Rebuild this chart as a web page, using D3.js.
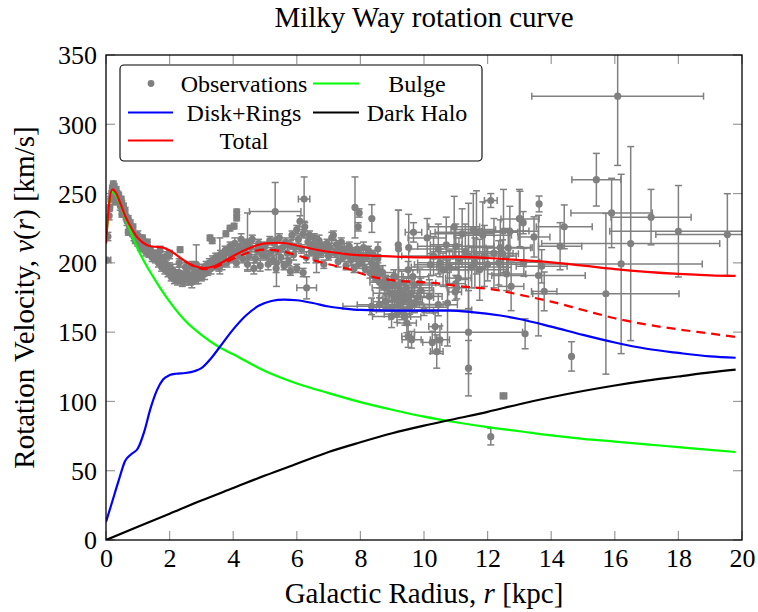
<!DOCTYPE html>
<html><head><meta charset="utf-8">
<script src="https://cdn.jsdelivr.net/npm/d3@7"></script>
<style>body{margin:0;background:#fff} text{font-family:"Liberation Serif","DejaVu Serif","Noto Serif",serif;}</style>
</head><body>
<svg id="c" width="758" height="612"></svg>
<script>
const xTicks=[0,2,4,6,8,10,12,14,16,18,20];
const yTicks=[0,50,100,150,200,250,300,350];

const bulge=[[0,214],[0.1,243],[0.2,251],[0.3,249],[0.45,242],[0.6,233],[0.8,221],[1.0,210],[1.2,201],[1.4,193],[1.7,182],[2.0,172],[2.5,158],[3.0,148],[3.5,140],[4.0,134],[5,122],[6,113],[7,106],[8,99.5],[9,94],[10,89],[11,85],[12,81.5],[13,78.5],[14,75.5],[15,73],[16,71],[17,69],[18,67],[19,65],[19.8,63.5]];
const disk=[[0,13],[0.2,28],[0.4,43],[0.6,57],[0.8,62],[1.0,66],[1.2,78],[1.4,95],[1.6,108],[1.8,116],[2.0,119],[2.2,120],[2.5,120.5],[2.8,122],[3.0,124],[3.3,131],[3.6,140],[4.0,152],[4.4,162],[4.8,169],[5.2,172.5],[5.6,173.5],[6.0,173],[6.5,171],[7.0,168.5],[7.5,167],[8.0,166],[9,165.5],[10,165.5],[10.8,165.5],[11.5,164.5],[12.4,162],[13,159.5],[14,154],[15,148],[16,142.5],[17,138],[18,135],[19,132.5],[19.8,131.5]];
const halo=[[0,0],[1,9.5],[2,19],[3,28.5],[4,37.5],[5,46.5],[6,55],[7,63.5],[8,70.5],[9,77],[10,82.5],[11,87.5],[12,92.5],[13,98],[14,103],[15,107.5],[16,111.5],[17,115],[18,118],[19,121],[19.8,123]];
const total=[[0,214],[0.1,243],[0.2,253],[0.3,251],[0.45,243],[0.6,234],[0.8,225],[1.0,218],[1.2,214],[1.4,212],[1.6,211.5],[1.8,211],[2.0,209],[2.2,206],[2.5,201],[2.8,197.5],[3.1,196.3],[3.4,197.5],[3.7,201],[4.0,205],[4.5,210.5],[5.0,214],[5.5,214.5],[6.0,212.5],[6.5,210],[7.0,208],[7.7,206],[8.5,205],[9.25,204.3],[10,204],[11,204.3],[12,203.5],[13,202],[14,200.3],[15,198],[16,195.5],[17,193.5],[18,192],[19,191],[19.8,190.6]];
const totalAlt=[[2.5,201],[2.8,197.2],[3.1,195.5],[3.4,196.5],[3.7,199.5],[4.0,203],[4.5,207.5],[5.0,209.5],[5.5,208.5],[6.0,205.5],[6.5,202],[7.0,199],[7.7,195],[8.2,191],[9,187.5],[10.3,185.5],[11,183.5],[12.4,180],[13,177],[14,172],[15,166],[16,160],[17,155.5],[18,152],[19,149],[19.8,146.5]];

// observations: [r, v, dr, dv]
const obs=[
[0.03,202,0.12,1],[0.06,219,0,3],[0.1,234,0,3],[0.12,240,0,2],[0.15,246,0,2],[0.18,250,0,2],[0.2,254,0,2],[0.23,257,0,2],[0.26,255,0,2],[0.28,251,0,2],[0.3,248,0,3],[0.32,253,0,2],[0.35,250,0,2],[0.38,246,0,2],[0.4,249,0,2],[0.43,245,0,2],[0.45,241,0,3],[0.48,246,0,2],[0.5,243,0,2],[0.52,239,0,2],[0.55,241,0,2],[0.58,236,0,2],[0.6,238,0,2],[0.63,233,0,2],[0.66,230,0,3],[0.7,232,0,2],[0.73,227,0,2],[0.76,229,0,2],[0.8,224,0,2],[0.84,221,0,2],[0.88,219,0,3],[0.92,216,0,2],[0.96,218,0,2],[1.0,214,0,2],[1.04,217,0,2],[1.08,212,0,3],[1.12,215,0,2],[1.16,210,0,2],[1.2,213,0,2],[1.25,208,0,3],[1.3,211,0,2],[1.35,206,0,2],[1.4,209,0,2],[1.45,204,0,3],[1.5,207,0,2],[0.28,244,0,2],[0.5,235,0,2],[0.7,222,0,2],[0.85,226,0,2],[1.0,220,0,3],[1.15,218,0,2],[1.3,215,0,2],
[1.55,203,0,3],[1.6,206,0,3],[1.65,200,0,3],[1.7,204,0,4],[1.75,197,0,3],[1.8,201,0,3],[1.85,195,0,3],[1.9,199,0,4],[1.95,193,0,3],[2.0,197,0,3],[2.05,190,0,3],[2.1,195,0,4],[2.15,188,0,3],[2.2,192,0,3],[2.25,187,0,3],[2.3,193,0,4],[2.35,189,0,3],[2.4,186,0,3],[2.45,191,0,3],[2.5,188,0,4],[2.55,193,0,3],[2.6,187,0,3],[2.65,190,0,3],[2.7,186,0,4],[2.75,192,0,3],[2.8,188,0,3],[2.85,195,0,3],[2.9,189,0,4],[2.95,193,0,3],[3.0,190,0,3],[3.05,196,0,3],[3.1,192,0,4],[3.15,198,0,3],[3.2,194,0,3],[3.25,200,0,3],[3.3,196,0,4],[3.35,202,0,3],[3.4,198,0,3],[3.45,204,0,3],[1.7,209,0,3],[2.0,206,0,3],[2.3,200,0,3],[2.5,197,0,3],[2.7,198,0,3],[1.9,205,0,3],[2.33,209.5,0,2],[2.84,199,0,14],
[3.27,218,0,2],[3.34,216,0,2],[3.58,205,0,13],[3.77,221,0,2],[3.9,225,0,2],[4.03,226.5,0,2],[4.11,232.4,0,2],[4.11,236.8,0,2],
[3.5,201,0,3],[3.55,197,0,3],[3.6,206,0,3],[3.65,199,0,4],[3.7,204,0,3],[3.75,209,0,3],[3.8,200,0,3],[3.85,207,0,4],[3.9,212,0,3],[3.95,203,0,3],[4.0,209,0,3],[4.05,214,0,4],[4.1,200,0,3],[4.15,206,0,3],[4.2,211,0,3],[4.25,217,0,4],[4.3,203,0,3],[4.35,209,0,3],[4.4,214,0,3],[4.45,199,0,4],[4.5,205,0,3],[4.55,211,0,3],[4.6,217,0,3],[4.65,196,0,4],[4.7,203,0,3],[4.75,209,0,3],[4.8,214,0,3],[4.85,198,0,4],[4.9,206,0,3],[4.95,210,0,3],[4.45,215,0,21],
[5.0,212,0,3],[5.05,205,0,3],[5.1,199,0,4],[5.15,216,0,3],[5.2,208,0,3],[5.25,202,0,3],[5.3,214,0,4],[5.35,196,0,3],[5.4,209,0,3],[5.45,218,0,3],[5.5,204,0,4],[5.55,211,0,3],[5.6,198,0,3],[5.65,215,0,3],[5.7,207,0,4],[5.75,201,0,3],[5.8,213,0,3],[5.85,220,0,3],[5.9,206,0,4],[5.95,211,0,3],[5.32,237,0.81,21],[5.36,200,0,17],
[6.0,224,0,3],[6.05,217,0,3],[6.1,230,0,4],[6.15,210,0,3],[6.2,221,0,3],[6.25,226,0,3],[6.3,204,0,4],[6.35,215,0,3],[6.4,220,0,3],[6.45,208,0,3],[6.5,213,0,4],[6.55,218,0,3],[6.6,203,0,3],[6.65,210,0,3],[6.7,216,0,4],[6.75,207,0,3],[6.8,212,0,3],[6.85,199,0,3],[6.9,209,0,4],[6.95,214,0,3],[6.0,196,0,3],[6.2,193,0,3],[5.8,194,0,3],[6.23,246,0.18,16],[6.31,182,0.31,8],[6.62,206,0,13],
[7.0,205,0,3],[7.05,211,0,3],[7.1,218,0,4],[7.15,220,0,3],[7.2,207,0,3],[7.25,213,0,3],[7.3,201,0,4],[7.35,209,0,3],[7.4,215,0,3],[7.45,204,0,3],[7.5,210,0,4],[7.55,198,0,3],[7.6,206,0,3],[7.65,212,0,3],[7.7,202,0,4],[7.75,208,0,3],[7.8,196,0,3],[7.85,204,0,3],[7.9,210,0,4],[7.95,199,0,3],
[7.83,240,0,22],[7.96,236,0,3],[7.93,226,0,3],[8.36,232,0,10],[8.55,210,0,5],
[8.0,206,0,3],[8.05,201,0,3],[8.1,211,0,4],[8.15,196,0,3],[8.2,204,0,3],[8.25,209,0,3],[8.3,193,0,4],[8.35,200,0,3],[8.4,206,0,3],[8.45,190,0,3],[8.5,198,0,4],[8.55,203,0,3],[8.6,194,0,3],
[8.4,195,0.3,4],[8.5,190,0.2,3],[8.6,186,0.3,4],[8.7,193,0.4,5],[8.8,188,0.2,3],[8.9,183,0.3,4],[9.0,178,0.4,5],[9.05,190,0.3,5],[9.1,184,0.3,4],[9.2,172,0.5,6],[9.25,180,0.4,6],[9.3,186,0.6,8],[9.4,176,0.5,6],[9.45,182,0.8,7],[9.5,173,0.3,5],[9.6,178,0.7,8],[9.7,184,1.0,6],[9.8,175,0.5,5],[9.9,180,0.4,9],[9.5,195,0.3,6],[9.65,190,0.5,5],[9.0,168,0.6,5],[8.8,172,0.4,5],[9.15,163,0.4,6],
[8.35,168.6,0.9,6],[8.6,169.8,0.7,5],[8.77,182,0.4,6],[8.98,161.3,0.6,8],[9.07,174.6,0.5,7],[9.2,178,0.8,5],[9.3,165,1.0,6],[9.35,172,0.6,8],[9.4,161,0.5,6],[9.46,156.6,0.3,7],[9.5,147,0.2,8],[9.61,144.5,0.3,6],[9.55,168,1.2,5],[9.7,170,0.9,6],[9.87,185.5,0.5,10],[10.0,166,1.5,4],[10.17,175.8,0.4,12],[10.26,142.6,0.3,8],[10.35,154,0.2,10],[10.4,136,0.2,12],[10.5,144.5,0.3,10],[10.45,169.8,0.6,8],[10.74,171,0,31],[11.03,182,0.3,8],[11.08,189,0.4,10],[10.98,179,0.2,6],[11.0,185,0.3,6],[10.2,198.7,0.5,8],[10.6,195,0.8,12],
[9.67,222,0.26,7],[9.19,213,0,25],[9.52,211,0,24],[9.2,210,0,28],
[10.1,218,0.6,14],[10.45,210,0.9,18],[10.7,213,0.5,20],[11.0,212,1.2,16],[10.95,226,0.8,22],[11.2,221,1.0,18],[11.55,224,0.7,26],[11.65,222,1.3,30],[11.85,220,0.9,24],[10.3,205,1.0,14],[10.5,200,0.7,10],[10.8,197,1.2,12],[11.1,203,0.9,15],[11.3,208,1.1,20],[11.6,200,0.8,18],[11.9,205,1.0,22],
[11.5,197,1.1,15],[11.75,195,0.9,22],[12.2,207,0.6,25],[12.4,211,1.0,20],[12.5,223,0.8,30],[12.0,199,1.2,12],[12.35,200,0.7,16],
[12.1,245,0.2,5],[12.47,206.6,0.5,10],[12.6,192,0.6,12],[12.65,210.8,0.7,14],[12.7,222.8,0.9,18],[12.74,183,0.4,17.5],[13.0,232,0,21],[13.12,229,0,8],[13.02,231.7,0.6,20],[13.14,200.4,0.5,10],[13.46,218.7,0.5,14.5],[13.6,190.8,1.47,43.5],[13.7,197.5,0.8,12],[13.78,179.4,0.4,14],[13.62,242.5,0,5.7],
[14.41,226,0.88,15.8],[14.28,212,0.68,17],[14.64,132.5,0,10.6],[13.18,148.8,0,10.8],[12.5,104,0.1,2],[12.1,74.6,0,6],
[11.4,150,1.7,30],[11.4,124,0,20],[11.4,205,0.3,38],
[15.42,260,0.77,19],[15.9,236,1.28,25],[17.14,233,1.26,20],[18.0,222.8,2.16,33],[19.54,220.4,2.25,29.5],[16.5,213.9,2.8,70],[16.2,199.2,2.55,64.7],[15.72,177.7,2.3,58],[16.09,320.3,2.7,50]
];

const W=758,H=612, L=106, R=742, T=55, B=540;
const FONT='Liberation Serif, DejaVu Serif, serif';
const svg=d3.select('#c');
svg.append('rect').attr('width',W).attr('height',H).attr('fill','#fff');
const x=d3.scaleLinear().domain([0,20]).range([L,R]);
const y=d3.scaleLinear().domain([0,350]).range([B,T]);

svg.append('defs').append('clipPath').attr('id','clip').append('rect')
  .attr('x',L).attr('y',T).attr('width',R-L).attr('height',B-T);

// ticks (inward, all four sides)
const tickLen=9, tickCol='#9a9a9a';
const gT=svg.append('g');
xTicks.forEach(t=>{
  gT.append('line').attr('x1',x(t)).attr('x2',x(t)).attr('y1',B).attr('y2',B-tickLen).attr('stroke',tickCol).attr('stroke-width',1.2);
  gT.append('line').attr('x1',x(t)).attr('x2',x(t)).attr('y1',T).attr('y2',T+tickLen).attr('stroke',tickCol).attr('stroke-width',1.2);
});
yTicks.forEach(t=>{
  gT.append('line').attr('y1',y(t)).attr('y2',y(t)).attr('x1',L).attr('x2',L+tickLen).attr('stroke',tickCol).attr('stroke-width',1.2);
  gT.append('line').attr('y1',y(t)).attr('y2',y(t)).attr('x1',R).attr('x2',R-tickLen).attr('stroke',tickCol).attr('stroke-width',1.2);
});

// tick labels via axes
const gx=svg.append('g').attr('transform',`translate(0,${B})`)
  .call(d3.axisBottom(x).tickValues(xTicks).tickSize(0).tickPadding(0).tickFormat(d3.format('d')));
gx.attr('font-family',null).attr('font-size',null);
gx.select('.domain').remove();
gx.selectAll('text').style('font-family',FONT).attr('font-size',26).attr('fill','#000').attr('dy',null).attr('y',27);
const gy=svg.append('g').attr('transform',`translate(${L},0)`)
  .call(d3.axisLeft(y).tickValues(yTicks).tickSize(0).tickPadding(9).tickFormat(d3.format('d')));
gy.attr('font-family',null).attr('font-size',null);
gy.select('.domain').remove();
gy.selectAll('text').style('font-family',FONT).attr('font-size',26).attr('fill','#000').attr('dy','0.34em');

// observations
const gObs=svg.append('g').attr('clip-path','url(#clip)');
const ec='#808080', cap=3.5;
obs.forEach(d=>{
  const [r,v,dr,dv]=d;
  const cx=x(r), cy=y(v);
  if(dv>0){
    const y1=y(v-dv), y2=y(v+dv);
    gObs.append('line').attr('x1',cx).attr('x2',cx).attr('y1',y1).attr('y2',y2).attr('stroke',ec).attr('stroke-width',1.5);
    gObs.append('line').attr('x1',cx-cap).attr('x2',cx+cap).attr('y1',y1).attr('y2',y1).attr('stroke',ec).attr('stroke-width',1.5);
    gObs.append('line').attr('x1',cx-cap).attr('x2',cx+cap).attr('y1',y2).attr('y2',y2).attr('stroke',ec).attr('stroke-width',1.5);
  }
  if(dr>0){
    const x1=x(r-dr), x2=x(r+dr);
    gObs.append('line').attr('x1',x1).attr('x2',x2).attr('y1',cy).attr('y2',cy).attr('stroke',ec).attr('stroke-width',1.5);
    gObs.append('line').attr('x1',x1).attr('x2',x1).attr('y1',cy-cap).attr('y2',cy+cap).attr('stroke',ec).attr('stroke-width',1.5);
    gObs.append('line').attr('x1',x2).attr('x2',x2).attr('y1',cy-cap).attr('y2',cy+cap).attr('stroke',ec).attr('stroke-width',1.5);
  }
});
obs.forEach(d=>{
  gObs.append('circle').attr('cx',x(d[0])).attr('cy',y(d[1])).attr('r',3.6).attr('fill',ec);
});

// curves
const line=d3.line().x(d=>x(d[0])).y(d=>y(d[1])).curve(d3.curveMonotoneX);
const gC=svg.append('g').attr('clip-path','url(#clip)');
const series=[
  {d:bulge,c:'#00ff00'},{d:disk,c:'#0000ff'},{d:halo,c:'#000'},{d:total,c:'#ff0000'},{d:totalAlt,c:'#ff0000',dash:'9,6'}
];
series.forEach(s=>{
  gC.append('path').attr('d',line(s.d)).attr('fill','none').attr('stroke',s.c).attr('stroke-width',2.2)
    .attr('stroke-linejoin','round').attr('stroke-dasharray',s.dash||null);
});

// frame
svg.append('rect').attr('x',L).attr('y',T).attr('width',R-L).attr('height',B-T)
  .attr('fill','none').attr('stroke','#000').attr('stroke-width',1.3);

// legend
const lg=svg.append('g');
lg.append('rect').attr('x',120).attr('y',65).attr('width',362).attr('height',96).attr('rx',4)
  .attr('fill','#fff').attr('stroke','#000').attr('stroke-width',1.1);
const legendItems=[
  {t:'Observations',type:'dot',col:0,row:0,c:ec},
  {t:'Bulge',type:'line',col:1,row:0,c:'#00ff00'},
  {t:'Disk+Rings',type:'line',col:0,row:1,c:'#0000ff'},
  {t:'Dark Halo',type:'line',col:1,row:1,c:'#000'},
  {t:'Total',type:'line',col:0,row:2,c:'#ff0000'}
];
const rowY=[83.5,112.5,140.5], sampX=[[128,173],[313,359]], textX=[244,417];
legendItems.forEach(it=>{
  const yy=rowY[it.row], sx=sampX[it.col];
  if(it.type==='dot') lg.append('circle').attr('cx',(sx[0]+sx[1])/2+0.5).attr('cy',yy).attr('r',3.4).attr('fill',it.c);
  else lg.append('line').attr('x1',sx[0]).attr('x2',sx[1]).attr('y1',yy).attr('y2',yy).attr('stroke',it.c).attr('stroke-width',2.2);
  lg.append('text').attr('x',textX[it.col]).attr('y',yy+8.3).attr('text-anchor','middle')
    .style('font-family',FONT).attr('font-size',24).text(it.t);
});

// title and axis labels
svg.append('text').attr('x',(L+R)/2).attr('y',27).attr('text-anchor','middle')
  .style('font-family',FONT).attr('font-size',29).text('Milky Way rotation curve');
const xl=svg.append('text').attr('x',(L+R)/2).attr('y',603).attr('text-anchor','middle')
  .style('font-family',FONT).attr('font-size',29);
xl.append('tspan').text('Galactic Radius, ');
xl.append('tspan').attr('font-style','italic').text('r');
xl.append('tspan').text(' [kpc]');
const yl=svg.append('text').attr('transform',`translate(34,${(T+B)/2}) rotate(-90)`).attr('text-anchor','middle')
  .style('font-family',FONT).attr('font-size',29);
yl.append('tspan').text('Rotation Velocity, ');
yl.append('tspan').attr('font-style','italic').text('v');
yl.append('tspan').text('(');
yl.append('tspan').attr('font-style','italic').text('r');
yl.append('tspan').text(') [km/s]');
</script>
</body></html>
